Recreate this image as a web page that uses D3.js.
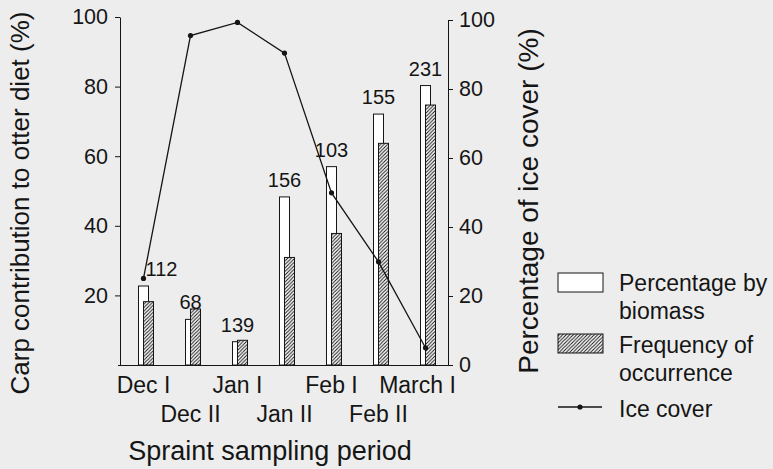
<!DOCTYPE html>
<html>
<head>
<meta charset="utf-8">
<script src="https://cdn.jsdelivr.net/npm/d3@7"></script>
<style>
    body { margin: 0; background: #ededed; }
    svg text { font-family: "Liberation Sans", Arial, sans-serif; fill: #151515; }
</style>
</head>
<body>
<svg id="chart" width="773" height="469"></svg>
<script>
// data
const periods = ["Dec I", "Dec II", "Jan I", "Jan II", "Feb I", "Feb II", "March I"];
const biomass = [22.7, 13.1, 6.7, 48.3, 57.0, 72.1, 80.3];
const frequency = [18.2, 16.1, 7.1, 30.9, 37.8, 63.7, 74.7];
const iceCover = [25.1, 95.5, 99.3, 90.4, 49.9, 29.9, 5.0];
const sampleSizes = [112, 68, 139, 156, 103, 155, 231];
const leftTicks = [20, 40, 60, 80, 100];
const rightTicks = [0, 20, 40, 60, 80, 100];
const legendLabels = [["Percentage by", "biomass"], ["Frequency of", "occurrence"], ["Ice cover"]];

const INK = "#151515";
const BAR_W = 10;
const FIRST_LABEL_SHIFT = 18;   // the "112" label sits right of the ice-cover point
const LAST_TICK_SHIFT = -8;     // "March I" is pulled left, clear of the right axis

const svg = d3.select("#chart");

// hatch for frequency bars
const defs = svg.append("defs");
const pat = defs.append("pattern")
    .attr("id", "hatch")
    .attr("patternUnits", "userSpaceOnUse")
    .attr("width", 3.5).attr("height", 3.5);
pat.append("rect").attr("width", 3.5).attr("height", 3.5).attr("fill", "#fff");
pat.append("path")
    .attr("d", "M-1,1 l2,-2 M0,3.5 l3.5,-3.5 M2.5,4.5 l2,-2")
    .attr("stroke", INK).attr("stroke-width", 1);

const x = d3.scaleBand().domain(periods).range([120, 449]);
const cx = d => x(d) + x.bandwidth() / 2;
const yL = d3.scaleLinear().domain([0, 100]).range([365, 17]);
const yR = d3.scaleLinear().domain([0, 100]).range([365, 20]);

const rows = periods.map((p, i) => ({
    period: p, biomass: biomass[i], frequency: frequency[i], ice: iceCover[i], n: sampleSizes[i], i
}));

// bars: open (biomass) behind, hatched (frequency) offset to the right
svg.selectAll("rect.bio")
    .data(rows)
    .join("rect")
    .attr("class", "bio")
    .attr("x", d => cx(d.period) - BAR_W / 2)
    .attr("y", d => yL(d.biomass))
    .attr("width", BAR_W)
    .attr("height", d => yL(0) - yL(d.biomass))
    .attr("fill", "#fff").attr("stroke", INK).attr("stroke-width", 1);

svg.selectAll("rect.freq")
    .data(rows)
    .join("rect")
    .attr("class", "freq")
    .attr("x", d => cx(d.period))
    .attr("y", d => yL(d.frequency))
    .attr("width", BAR_W)
    .attr("height", d => yL(0) - yL(d.frequency))
    .attr("fill", "url(#hatch)").attr("stroke", INK).attr("stroke-width", 1);

// sample size labels
svg.selectAll("text.n")
    .data(rows)
    .join("text")
    .attr("class", "n")
    .attr("x", d => cx(d.period) + (d.i === 0 ? FIRST_LABEL_SHIFT : 0))
    .attr("y", d => yL(d.biomass) - 10)
    .attr("text-anchor", "middle")
    .attr("font-size", 20)
    .text(d => d.n);

// axes
const xAxis = svg.append("g")
    .attr("transform", `translate(0,${yL(0)})`)
    .call(d3.axisBottom(x).tickSize(0).tickSizeOuter(0));
xAxis.select(".domain").attr("stroke", INK).attr("d", "M118,0.5H449");
xAxis.selectAll("text")
    .attr("font-size", 23)
    .attr("font-family", null)
    .attr("x", (d, i) => i === periods.length - 1 ? LAST_TICK_SHIFT : 0)
    .attr("y", (d, i) => i % 2 ? 57 : 28)
    .attr("dy", null);

const leftAxis = svg.append("g")
    .attr("transform", "translate(120,0)")
    .call(d3.axisLeft(yL).tickValues(leftTicks).tickSize(5).tickSizeOuter(0).tickPadding(7));
leftAxis.select(".domain").attr("stroke", INK);
leftAxis.selectAll("line").attr("stroke", INK);
leftAxis.selectAll("text").attr("font-size", 21.5).attr("font-family", null);

const rightAxis = svg.append("g")
    .attr("transform", "translate(448,0)")
    .call(d3.axisRight(yR).tickValues(rightTicks).tickSize(5).tickSizeOuter(0).tickPadding(6));
rightAxis.select(".domain").attr("stroke", INK);
rightAxis.selectAll("line").attr("stroke", INK);
rightAxis.selectAll("text").attr("font-size", 21.5).attr("font-family", null);

// ice cover line
const line = d3.line().x(d => cx(d.period)).y(d => yR(d.ice));
svg.append("path")
    .datum(rows)
    .attr("d", line)
    .attr("fill", "none").attr("stroke", INK).attr("stroke-width", 1.3);
svg.selectAll("circle.ice")
    .data(rows)
    .join("circle")
    .attr("class", "ice")
    .attr("cx", d => cx(d.period))
    .attr("cy", d => yR(d.ice))
    .attr("r", 2.6)
    .attr("fill", INK);

// axis titles
svg.append("text")
    .attr("transform", "translate(29,203) rotate(-90)")
    .attr("text-anchor", "middle").attr("font-size", 26)
    .text("Carp contribution to otter diet (%)");
svg.append("text")
    .attr("transform", "translate(538,201) rotate(-90)")
    .attr("text-anchor", "middle").attr("font-size", 28)
    .text("Percentage of ice cover (%)");
svg.append("text")
    .attr("x", 270).attr("y", 460)
    .attr("text-anchor", "middle").attr("font-size", 27)
    .text("Spraint sampling period");

// legend
const lg = svg.append("g").attr("transform", "translate(558,0)");
lg.append("rect").attr("x", 0).attr("y", 273).attr("width", 45).attr("height", 19)
    .attr("fill", "#fff").attr("stroke", INK);
lg.append("rect").attr("x", 0).attr("y", 334).attr("width", 45).attr("height", 19)
    .attr("fill", "url(#hatch)").attr("stroke", INK);
lg.append("line").attr("x1", 0).attr("x2", 44).attr("y1", 407).attr("y2", 407)
    .attr("stroke", INK).attr("stroke-width", 1.3);
lg.append("circle").attr("cx", 22).attr("cy", 407).attr("r", 2.6).attr("fill", INK);

const legendY = [[291, 319], [353, 381], [417]];
legendLabels.forEach((lines, k) => {
    lines.forEach((t, j) => {
        lg.append("text")
            .attr("x", 61).attr("y", legendY[k][j])
            .attr("font-size", 23)
            .text(t);
    });
});
</script>
</body>
</html>
